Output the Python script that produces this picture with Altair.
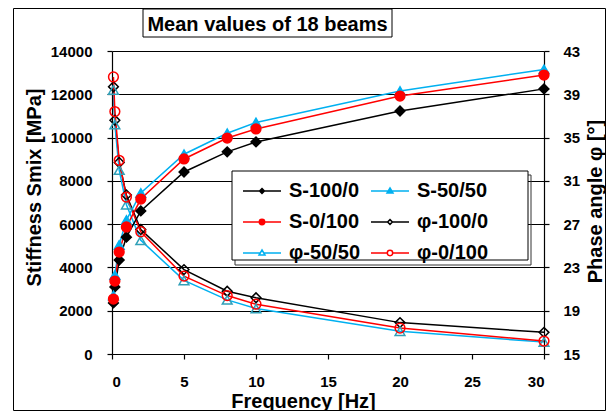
import altair as alt
import pandas as pd

# ---------------- data ----------------
freq = [0.1, 0.2, 0.5, 1, 2, 5, 8, 10, 20, 30]

s_100_0 = [2360, 3100, 4340, 5400, 6610, 8410, 9340, 9800, 11230, 12250]
s_50_50 = [2700, 3650, 5040, 6190, 7440, 9230, 10200, 10700, 12150, 13150]
s_0_100 = [2540, 3370, 4710, 5870, 7160, 9010, 9980, 10400, 11920, 12890]

phi_100_0 = [39.7, 36.6, 32.7, 29.7, 26.5, 22.8, 20.8, 20.2, 17.9, 17.0]
phi_50_50 = [39.4, 36.2, 32.0, 28.8, 25.5, 21.8, 20.0, 19.2, 17.1, 16.1]
phi_0_100 = [40.6, 37.4, 32.9, 29.5, 26.3, 22.2, 20.4, 19.6, 17.4, 16.2]

series_names = ["S-100/0", "S-50/50", "S-0/100", "φ-100/0", "φ-50/50", "φ-0/100"]
line_colors = ["#000000", "#00B0F0", "#FF0000", "#000000", "#00B0F0", "#FF0000"]
marker_strokes = ["#000000", "#00B0F0", "#FF0000", "#000000", "#31A0B8", "#FF0000"]
fill_colors = ["#000000", "#00B0F0", "#FF0000", "transparent", "transparent", "transparent"]
legend_fills = ["#000000", "#00B0F0", "#FF0000", "white", "white", "white"]
marker_shapes = ["diamond", "triangle-up", "circle", "diamond", "triangle-up", "circle"]
# legend reads row by row: S-100/0, S-50/50 / S-0/100, φ-100/0 / φ-50/50, φ-0/100
legend_order = [0, 2, 4, 1, 3, 5]

x_ticks = [0, 5, 10, 15, 20, 25, 30]
s_ticks = [0, 2000, 4000, 6000, 8000, 10000, 12000, 14000]
phi_ticks = [15, 19, 23, 27, 31, 35, 39, 43]

rows = []
for name, vals in zip(series_names[:3], [s_100_0, s_50_50, s_0_100]):
    for f, v in zip(freq, vals):
        rows.append({"freq": f, "value": v, "series": name, "kind": "S"})
for name, vals in zip(series_names[3:], [phi_100_0, phi_50_50, phi_0_100]):
    for f, v in zip(freq, vals):
        rows.append({"freq": f, "value": v, "series": name, "kind": "phi"})
df = pd.DataFrame(rows)

FONT = "Liberation Sans"
W, H = 432, 303

# legend symbol paths (line with marker in the middle)
diamond = "M0,-0.24L0.24,0L0,0.24L-0.24,0Z"
tri = "M0,-0.3L0.3,0.21L-0.3,0.21Z"
circ = "M-0.27,0A0.27,0.27,0,1,1,0.27,0A0.27,0.27,0,1,1,-0.27,0Z"
legend_paths = [
    "M-1.9,0H1.9" + diamond,
    "M-1.9,0H1.9" + tri,
    "M-1.9,0H1.9" + circ,
    "M-1.9,0H-0.24M0.24,0H1.9" + diamond,
    "M-1.9,0H-0.2M0.2,0H1.9" + tri,
    "M-1.9,0H-0.27M0.27,0H1.9" + circ,
]


def reorder(lst):
    return [lst[i] for i in legend_order]


legend = alt.Legend(
    title=None, orient="none", legendX=139, legendY=129, columns=2,
    symbolSize=400, symbolStrokeWidth=1.5,
    labelFont=FONT, labelFontSize=20, labelFontWeight="bold", labelColor="black",
    labelOffset=16, columnPadding=7, rowPadding=10, padding=0,
)

x_enc = alt.X(
    "freq:Q", scale=alt.Scale(domain=[0, 30], nice=False),
    axis=alt.Axis(values=x_ticks, title="Frequency [Hz]", grid=False, tickSize=5,
                  labelPadding=15, labelFontSize=15, titleFontSize=20,
                  titleX=191, titleY=53, titleBaseline="alphabetic", titleAlign="center"),
)
left_axis = alt.Axis(values=s_ticks, format="d", grid=True, gridColor="black", gridWidth=1,
                     tickSize=5, labelPadding=15, labelFontSize=15,
                     title="Stiffness Smix [MPa]", titleFontSize=20, titleAngle=270,
                     titleX=-72, titleY=136, titleAlign="center", titleBaseline="alphabetic",
                     orient="left")
right_axis = alt.Axis(values=phi_ticks, grid=False, tickSize=5, labelPadding=14,
                      labelFontSize=15, title="Phase angle φ [°]", titleFontSize=20,
                      titleAngle=270, titleX=57, titleY=150, titleAlign="center",
                      titleBaseline="alphabetic", orient="right")

base = alt.Chart(df)

s_y = alt.Y("value:Q", scale=alt.Scale(domain=[0, 14000], nice=False), axis=left_axis)
s_y_na = alt.Y("value:Q", scale=alt.Scale(domain=[0, 14000], nice=False), axis=None)
p_y = alt.Y("value:Q", scale=alt.Scale(domain=[15, 43], nice=False), axis=right_axis)
p_y_na = alt.Y("value:Q", scale=alt.Scale(domain=[15, 43], nice=False), axis=None)

line_stroke = alt.Stroke("series:N", scale=alt.Scale(domain=series_names, range=line_colors), legend=None)
pt_stroke = alt.Stroke("series:N", scale=alt.Scale(domain=series_names, range=marker_strokes), legend=None)
fill_enc = alt.Fill("series:N", scale=alt.Scale(domain=series_names, range=fill_colors), legend=None)
shape_enc = alt.Shape("series:N", scale=alt.Scale(domain=series_names, range=marker_shapes), legend=None)

s_line = base.transform_filter("datum.kind == 'S'").mark_line(strokeWidth=1.5).encode(
    x=x_enc, y=s_y, stroke=line_stroke)
s_pts = base.transform_filter("datum.kind == 'S'").mark_point(size=95, strokeWidth=1.5, opacity=1).encode(
    x=x_enc, y=s_y_na, stroke=pt_stroke, fill=fill_enc, shape=shape_enc)
p_line = base.transform_filter("datum.kind == 'phi'").mark_line(strokeWidth=1.5).encode(
    x=x_enc, y=p_y, stroke=line_stroke)
p_pts = base.transform_filter("datum.kind == 'phi'").mark_point(size=95, strokeWidth=1.5, opacity=1).encode(
    x=x_enc, y=p_y_na, stroke=pt_stroke, fill=fill_enc, shape=shape_enc)

# legend carrier: draws no rows; explicit scale domains give the entries
leg_domain = reorder(series_names)
leg_layer = base.transform_filter("false").mark_point(strokeWidth=1.5, opacity=1).encode(
    stroke=alt.Stroke("series:N", scale=alt.Scale(domain=leg_domain, range=reorder(line_colors)), legend=legend),
    fill=alt.Fill("series:N", scale=alt.Scale(domain=leg_domain, range=reorder(legend_fills)), legend=legend),
    shape=alt.Shape("series:N", scale=alt.Scale(domain=leg_domain, range=reorder(legend_paths)), legend=legend),
)

one = pd.DataFrame({"k": [0]})
frame = alt.Chart(one).mark_rect(fill="transparent", stroke="black", strokeWidth=1).encode(
    x=alt.value(-98.5), x2=alt.value(493.5), y=alt.value(-42.5), y2=alt.value(359.5))
leg_shadow = alt.Chart(one).mark_rect(fill="transparent", stroke="#333333", strokeWidth=1).encode(
    x=alt.value(123), x2=alt.value(419), y=alt.value(124), y2=alt.value(214))
leg_box = alt.Chart(one).mark_rect(fill="white", stroke="black", strokeWidth=1).encode(
    x=alt.value(120), x2=alt.value(416), y=alt.value(120), y2=alt.value(209))
title_box = alt.Chart(one).mark_rect(fill="white", stroke="black", strokeWidth=1).encode(
    x=alt.value(31), x2=alt.value(280), y=alt.value(-42), y2=alt.value(-14))
title_txt = alt.Chart(one).mark_text(
    text="Mean values of 18 beams", font=FONT, fontSize=20, fontWeight="bold",
    align="center", baseline="alphabetic", color="black").encode(
    x=alt.value(155.5), y=alt.value(-20))

chart = alt.layer(
    frame, p_line, s_line, p_pts, s_pts, leg_shadow, leg_box, leg_layer, title_box, title_txt
).resolve_scale(
    y="independent", stroke="independent", fill="independent", shape="independent"
).properties(
    width=W, height=H,
    autosize=alt.AutoSizeParams(type="none"),
    padding={"left": 104, "top": 43, "right": 62, "bottom": 57},
    background="white",
).configure_view(strokeWidth=0).configure_axis(
    labelFont=FONT, titleFont=FONT, labelFontWeight="bold", titleFontWeight="bold",
    labelColor="black", titleColor="black", domainColor="black", tickColor="black",
    domainWidth=1.2, tickWidth=1.2,
)

chart.save("out.html", embed_options={"renderer": "svg", "actions": False})
